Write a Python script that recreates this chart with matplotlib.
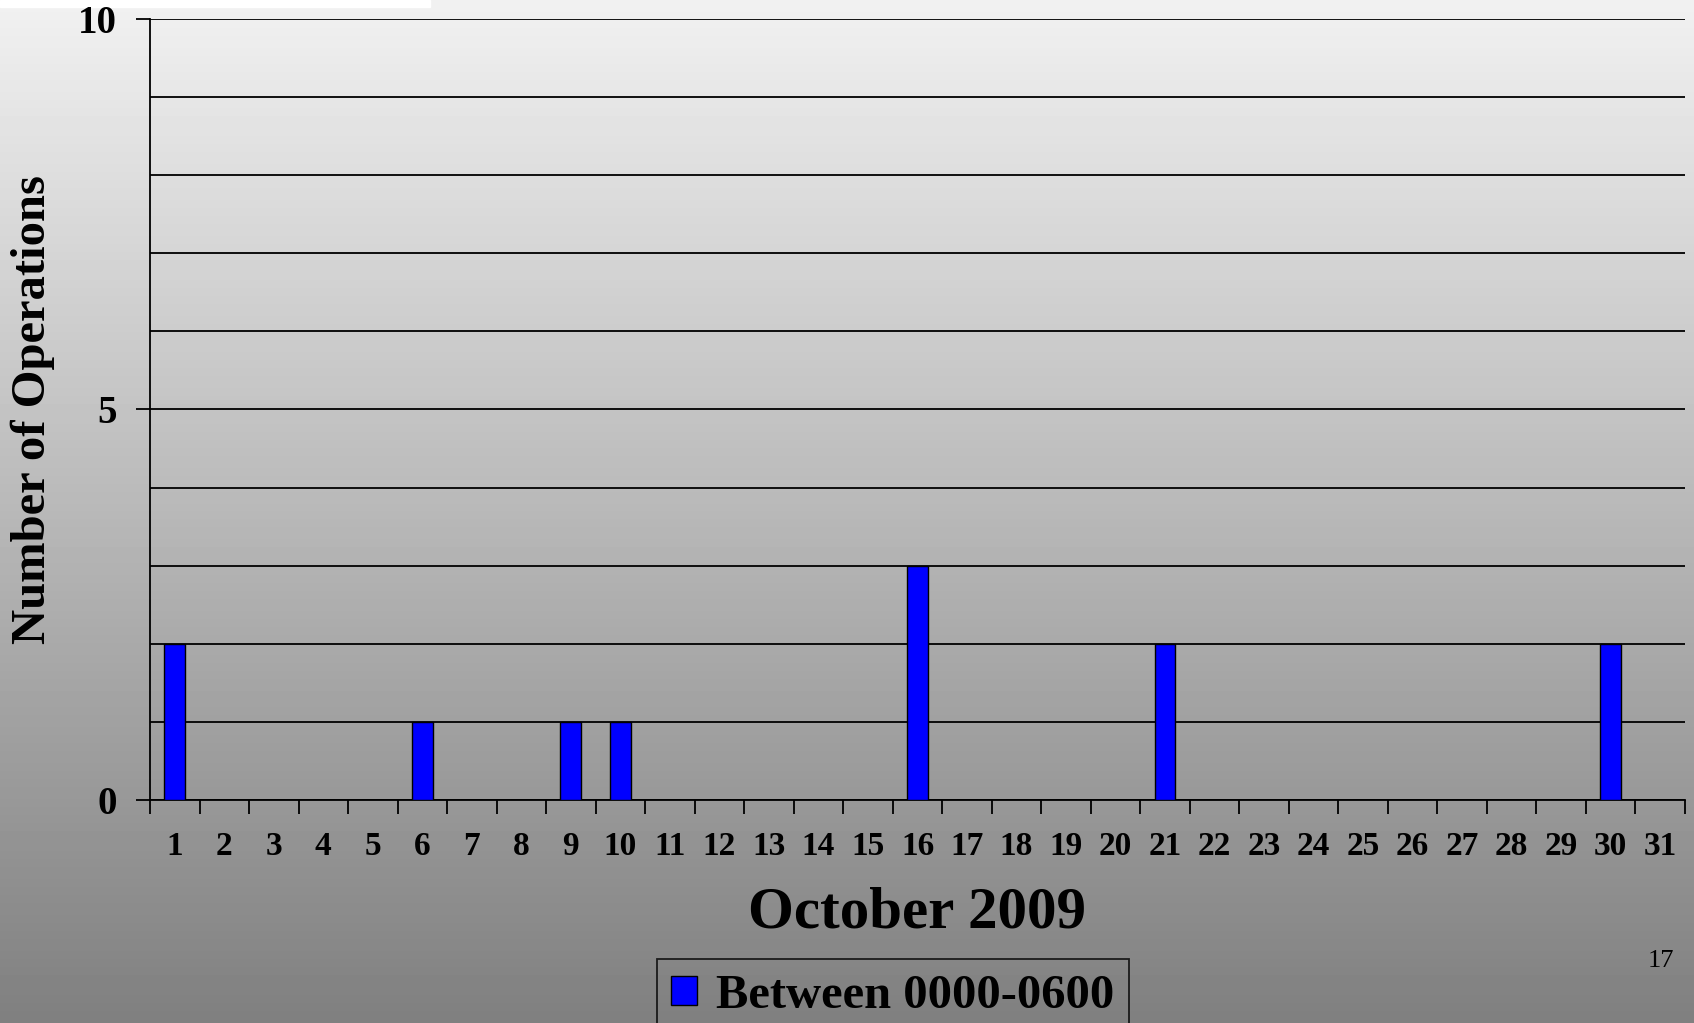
import numpy as np
import matplotlib
matplotlib.use('Agg')
import matplotlib.pyplot as plt
from matplotlib.patches import Rectangle

days = list(range(1, 32))
ops = [2, 0, 0, 0, 0, 1, 0, 0, 1, 1, 0, 0, 0, 0, 0, 3, 0, 0, 0, 0,
       2, 0, 0, 0, 0, 0, 0, 0, 0, 2, 0]
series_name = 'Between 0000-0600'

plt.rcParams['font.family'] = ['Liberation Serif', 'DejaVu Serif']

fig = plt.figure(figsize=(16.94, 10.23), dpi=100)

# gradient background over the whole slide
bg = fig.add_axes([0, 0, 1, 1], zorder=-10)
grad = np.linspace(0.945, 0.50, 256).reshape(-1, 1)
bg.imshow(grad, aspect='auto', cmap='gray', vmin=0, vmax=1, extent=[0, 1, 0, 1])
bg.add_patch(Rectangle((0, 1 - 7 / 1023), 430 / 1694, 7 / 1023, color='white'))
bg.set_xlim(0, 1)
bg.set_ylim(0, 1)
bg.axis('off')

ax = fig.add_axes([150 / 1694, 1 - 800 / 1023, 1535 / 1694, 781 / 1023])
ax.patch.set_alpha(0)
ax.bar(days, ops, width=0.42, color='#0000ff', edgecolor='black', linewidth=1,
       zorder=3, label=series_name)

ax.set_xlim(0.5, 31.5)
ax.set_ylim(0, 10)
ax.set_yticks([0, 5, 10])
ax.set_yticks(range(11), minor=True)
ax.yaxis.grid(True, which='both', color='black', linewidth=1.3)
ax.tick_params(axis='y', which='minor', length=0)
ax.tick_params(axis='y', which='major', length=10, width=1.3, direction='out', labelsize=28, pad=14)

ax.set_xticks(np.arange(0.5, 32, 1))
ax.set_xticklabels([])
ax.set_xticks(days, minor=True)
ax.set_xticklabels([str(d) for d in days], minor=True, fontsize=24, fontweight='bold')
ax.tick_params(axis='x', which='major', length=10, width=1.3, direction='out')
ax.tick_params(axis='x', which='minor', length=0, pad=22)
for lbl in ax.get_yticklabels():
    lbl.set_fontweight('bold')

for s in ['top', 'right']:
    ax.spines[s].set_visible(False)
for s in ['left', 'bottom']:
    ax.spines[s].set_linewidth(1.3)

ax.set_ylabel('Number of Operations', fontsize=35, fontweight='bold', labelpad=16)
ax.set_xlabel('October 2009', fontsize=42.5, fontweight='bold', labelpad=18)

leg = ax.legend(loc='upper center', bbox_to_anchor=(893 / 1694, 1 - 959 / 1023),
                bbox_transform=fig.transFigure, prop={'weight': 'bold', 'size': 35},
                frameon=True, fancybox=False, edgecolor='black', handlelength=0.53,
                handleheight=0.53, handletextpad=0.4, borderpad=0.3, borderaxespad=0)
leg.get_frame().set_facecolor('none')
leg.get_frame().set_linewidth(1.3)

fig.text(1661 / 1694, 1 - 961 / 1023, '17', fontsize=19, ha='center', va='center')

fig.savefig('out.png', dpi=100)
